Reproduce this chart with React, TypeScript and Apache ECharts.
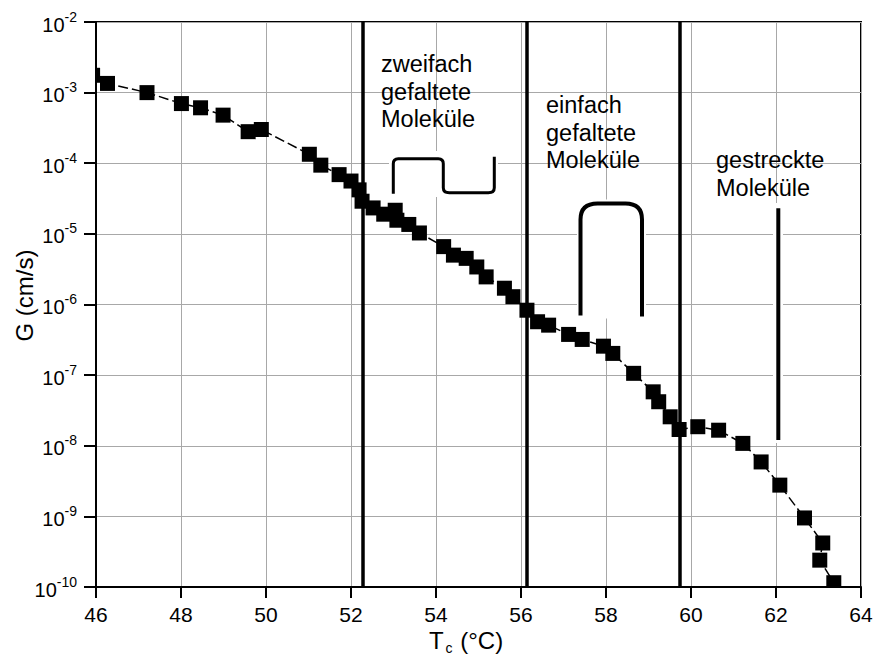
import { useEffect, useRef } from 'react';
import * as echarts from 'echarts';

// Crystallisation temperature Tc (°C) and growth rate G (cm/s)
const temperatures = [
  45.92, 46.27, 47.2, 48.01, 48.46, 48.99, 49.58, 49.89, 51.02, 51.29, 51.72, 52.0,
  52.19, 52.26, 52.52, 52.77, 53.04, 53.08, 53.36, 53.61, 54.18, 54.41, 54.71, 54.96,
  55.18, 55.61, 55.81, 56.14, 56.39, 56.65, 57.12, 57.44, 57.94, 58.16, 58.65, 59.11,
  59.24, 59.51, 59.72, 60.16, 60.65, 61.22, 61.65, 62.09, 62.67, 63.1, 63.03, 63.36,
];
const growthRates = [
  1.76e-3, 1.35e-3, 1.0e-3, 7.0e-4, 6.1e-4, 4.8e-4, 2.8e-4, 3.0e-4, 1.34e-4, 9.4e-5, 6.9e-5, 5.6e-5,
  4.2e-5, 2.9e-5, 2.33e-5, 1.9e-5, 2.16e-5, 1.56e-5, 1.36e-5, 1.03e-5, 6.6e-6, 5.0e-6, 4.5e-6, 3.4e-6,
  2.46e-6, 1.7e-6, 1.29e-6, 8.3e-7, 5.7e-7, 5.1e-7, 3.77e-7, 3.2e-7, 2.57e-7, 2.03e-7, 1.06e-7, 5.8e-8,
  4.2e-8, 2.57e-8, 1.7e-8, 1.86e-8, 1.66e-8, 1.08e-8, 5.9e-9, 2.77e-9, 9.5e-10, 4.2e-10, 2.4e-10, 1.15e-10,
];
// Temperatures separating the crystal morphologies
const regionBoundaries = [52.28, 56.13, 59.73];
const regionLabels = [
  'zweifach\ngefaltete\nMoleküle',
  'einfach\ngefaltete\nMoleküle',
  'gestreckte\nMoleküle',
];
const xAxisTitle = 'T';
const xAxisSubscript = 'c';
const xAxisUnit = ' (°C)';
const yAxisTitle = 'G (cm/s)';

const FONT = '"Liberation Sans", Arial, Helvetica, sans-serif';

// Chain-conformation sketches
echarts.graphic.registerShape(
  'doubleFold',
  echarts.graphic.extendPath(
    'M0 37 L0 7 Q0 2 5 2 L45 2 Q50 2 50 7 L50 31 Q50 36 56 36 L95 36 Q101 36 101 31 L101 0',
    {}
  )
);
echarts.graphic.registerShape(
  'hairpin',
  echarts.graphic.extendPath(
    'M0 112 L0 16 C0 5 6 0 17 0 L45 0 C56 0 61.5 5 61.5 16 L61.5 113',
    {}
  )
);

export default function App() {
  const ref = useRef<HTMLDivElement>(null);

  useEffect(() => {
    if (!ref.current) return;
    const chart = echarts.init(ref.current, null, { renderer: 'svg' });
    const points = temperatures.map((t, i) => [t, growthRates[i]]);

    const labelStyle = (text: string, x: number, y: number) => ({
      type: 'text',
      z: 60,
      x,
      y,
      style: {
        text,
        fill: '#000',
        font: `23.5px ${FONT}`,
        lineHeight: 27.5,
        verticalAlign: 'top',
        align: 'left',
      },
    });

    chart.setOption({
      animation: false,
      backgroundColor: '#fff',
      grid: {
        left: 96,
        right: 13,
        top: 22,
        bottom: 72,
        show: true,
        borderColor: '#000',
        borderWidth: 2,
        containLabel: false,
        outerBoundsMode: 'none',
      },
      xAxis: {
        type: 'value',
        min: 46,
        max: 64,
        interval: 2,
        axisLine: { show: true, lineStyle: { color: '#000', width: 2 } },
        axisTick: { show: true, inside: false, length: 11, lineStyle: { color: '#000', width: 2 } },
        axisLabel: { color: '#000', fontSize: 21, fontFamily: FONT, margin: 17 },
        splitLine: { show: true, lineStyle: { color: '#a8a8a8', width: 1 } },
        name: `{t|${xAxisTitle}}{sub|${xAxisSubscript}}{t|${xAxisUnit}}`,
        nameLocation: 'middle',
        nameGap: 38,
        nameMoveOverlap: false,
        nameTextStyle: {
          padding: [0, 25, 0, 0],
          rich: {
            t: { fontSize: 24, fontFamily: FONT, color: '#000' },
            sub: { fontSize: 14, fontFamily: FONT, color: '#000', padding: [16, 1, 0, 2] },
          },
        },
      },
      yAxis: {
        type: 'log',
        logBase: 10,
        min: 1e-10,
        max: 1e-2,
        splitNumber: 8,
        axisLine: { show: true, lineStyle: { color: '#000', width: 2 } },
        axisTick: { show: true, inside: false, length: 12, lineStyle: { color: '#000', width: 2 } },
        axisLabel: {
          margin: 19,
          formatter: (v: number) => `{b|10}{s|${Math.round(Math.log10(v))}}`,
          rich: {
            b: { fontSize: 20, fontFamily: FONT, color: '#000', padding: [5, 0, 0, 0] },
            s: { fontSize: 14, fontFamily: FONT, color: '#000', padding: [0, 0, 11, 0] },
          },
        },
        splitLine: { show: true, lineStyle: { color: '#a8a8a8', width: 1 } },
        name: yAxisTitle,
        nameLocation: 'middle',
        nameGap: 60,
        nameMoveOverlap: false,
        nameTextStyle: {
          fontSize: 24,
          fontFamily: FONT,
          color: '#000',
          padding: [0, 0, 0, 18],
        },
      },
      series: [
        {
          type: 'line',
          data: points,
          symbol: 'none',
          clip: true,
          z: 2,
          lineStyle: { color: '#000', width: 1.5, type: [10, 4] },
          markLine: {
            silent: true,
            symbol: ['none', 'none'],
            label: { show: false },
            lineStyle: { color: '#000', width: 3.5, type: 'solid' },
            data: regionBoundaries.map((x) => ({ xAxis: x })),
          },
        },
        {
          type: 'custom',
          data: points,
          z: 4,
          encode: { x: 0, y: 1 },
          renderItem: (params: any, api: any) => {
            const p = api.coord([api.value(0), api.value(1)]);
            const s = 15;
            const cs = params.coordSys;
            const shape = echarts.graphic.clipRectByRect(
              { x: p[0] - s / 2, y: p[1] - s / 2, width: s, height: s },
              { x: cs.x, y: cs.y, width: cs.width, height: cs.height }
            );
            if (!shape) return null;
            return { type: 'rect', shape, style: { fill: '#000' } };
          },
        },
      ],
      graphic: [
        // white backdrops behind the conformation sketches
        { type: 'rect', z: 50, shape: { x: 389, y: 151, width: 109, height: 46 }, style: { fill: '#fff' } },
        { type: 'rect', z: 50, shape: { x: 577, y: 199.5, width: 69, height: 119 }, style: { fill: '#fff' } },
        { type: 'rect', z: 50, shape: { x: 773, y: 203, width: 10, height: 240 }, style: { fill: '#fff' } },
        {
          type: 'doubleFold',
          z: 55,
          x: 393.3,
          y: 156.7,
          style: { stroke: '#000', lineWidth: 3, fill: 'none' },
        },
        {
          type: 'hairpin',
          z: 55,
          x: 580.5,
          y: 203.5,
          style: { stroke: '#000', lineWidth: 4, fill: 'none' },
        },
        {
          type: 'line',
          z: 55,
          shape: { x1: 778.3, y1: 208.3, x2: 778.3, y2: 440 },
          style: { stroke: '#000', lineWidth: 4 },
        },
        labelStyle(regionLabels[0], 381, 50.5),
        labelStyle(regionLabels[1], 546, 91.5),
        labelStyle(regionLabels[2], 716, 146.5),
      ],
    });

    return () => chart.dispose();
  }, []);

  return (
    <div
      ref={ref}
      style={{ position: 'absolute', left: 0, top: 0, width: 874, height: 659, background: '#fff' }}
    />
  );
}
